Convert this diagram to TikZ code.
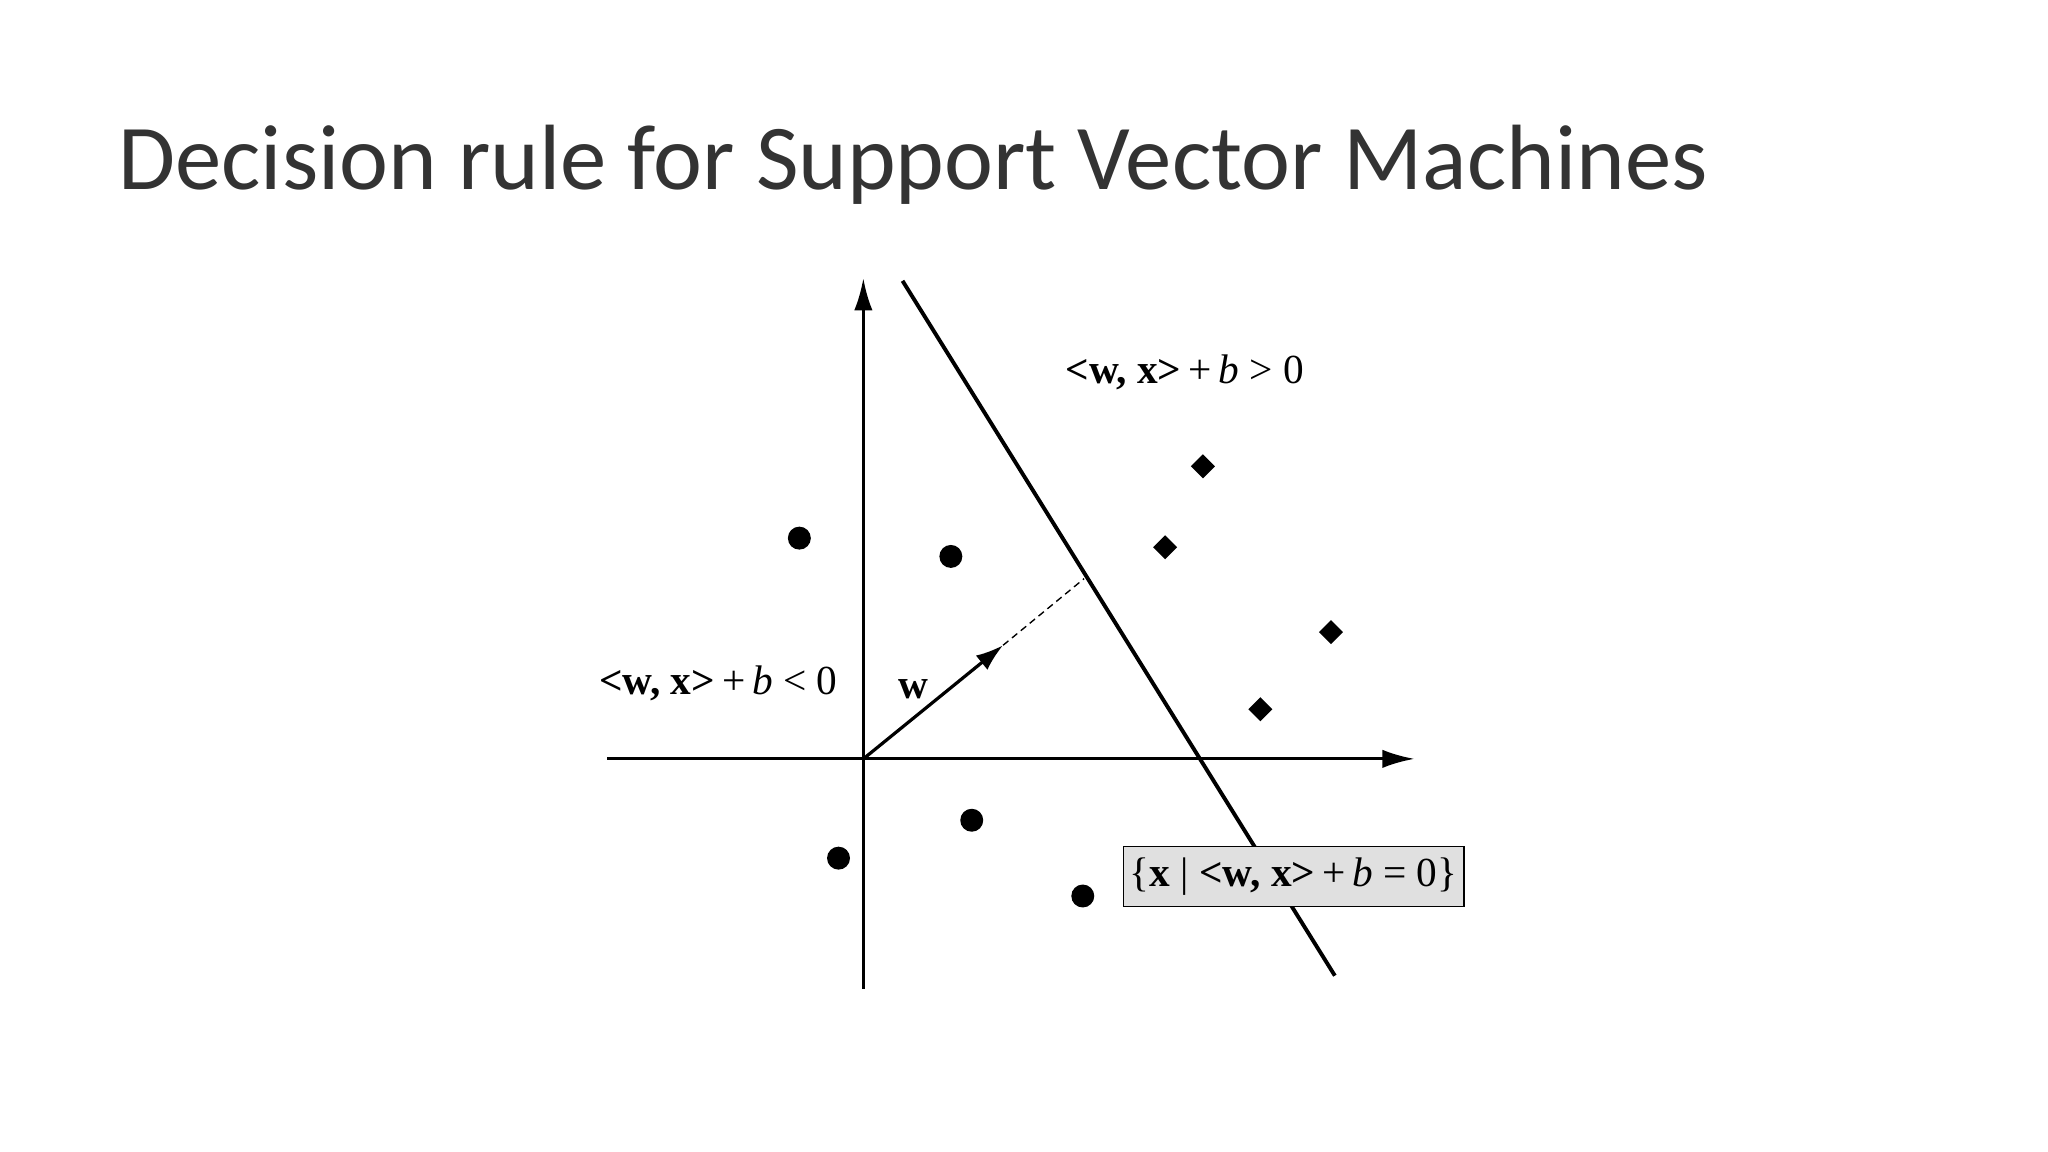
\documentclass[tikz,border=0pt]{standalone}
\usepackage{fontspec}
\setmainfont{Liberation Serif}
\newfontfamily\titlefont{Carlito}
\usetikzlibrary{arrows.meta,shapes.geometric}
\begin{document}
\begin{tikzpicture}[x=0.1mm,y=-0.1mm,
  ax/.style={line width=0.65pt,-{Latex[length=7pt,width=4pt]}},
  dot/.style={circle,fill=black,inner sep=0pt,minimum size=5pt},
  dia/.style={diamond,fill=black,inner sep=0pt,minimum size=5.4pt},
  lbl/.style={font=\fontsize{9}{11}\selectfont,inner sep=1pt}]
\useasboundingbox (0,0) rectangle (1568,882);
\node[anchor=base west,font=\titlefont\fontsize{20.2}{24}\selectfont,inner sep=0pt,text=black!80] (title) at (90,145) {Decision rule for Support Vector Machines};
\coordinate (o) at (661,581);
\coordinate (yb) at (661,757); \coordinate (yt) at (661,213);
\coordinate (xl) at (465,581); \coordinate (xr) at (1083,581);
\draw[ax] (yb) -- (yt);
\draw[ax] (xl) -- (xr);
\coordinate (h1) at (691,215); \coordinate (h2) at (1022,747);
\draw[line width=0.85pt] (h1) -- (h2);
\coordinate (wt) at (768,494); \coordinate (ft) at (830,443);
\draw[line width=0.3pt,dash pattern=on 1.5pt off 1pt] (wt) -- (ft);
\draw[line width=0.7pt,-{Latex[length=6pt,width=4pt]}] (o) -- (wt);
\node[dot] (c1) at (612,412) {};
\node[dot] (c2) at (728,426) {};
\node[dot] (c3) at (744,628) {};
\node[dot] (c4) at (642,657) {};
\node[dot] (c5) at (829,686) {};
\node[dia] (d1) at (921,357) {};
\node[dia] (d2) at (892,419) {};
\node[dia] (d3) at (1019,484) {};
\node[dia] (d4) at (965,543) {};
\node[lbl] (pos) at (907,285) {\textbf{<w, x>}\,+\,\textit{b} > 0};
\node[lbl] (neg) at (550,523) {\textbf{<w, x>}\,+\,\textit{b} < 0};
\node[lbl] (wl) at (699,528) {\textbf{w}};
\node[lbl,draw,fill=black!12,line width=0.3pt,minimum width=261*0.1mm,minimum height=46*0.1mm,inner sep=1pt] (hyp) at (990.5,671) {\{\textbf{x} | \textbf{<w, x>}\,+\,\textit{b} = 0\}};
\end{tikzpicture}
\end{document}
